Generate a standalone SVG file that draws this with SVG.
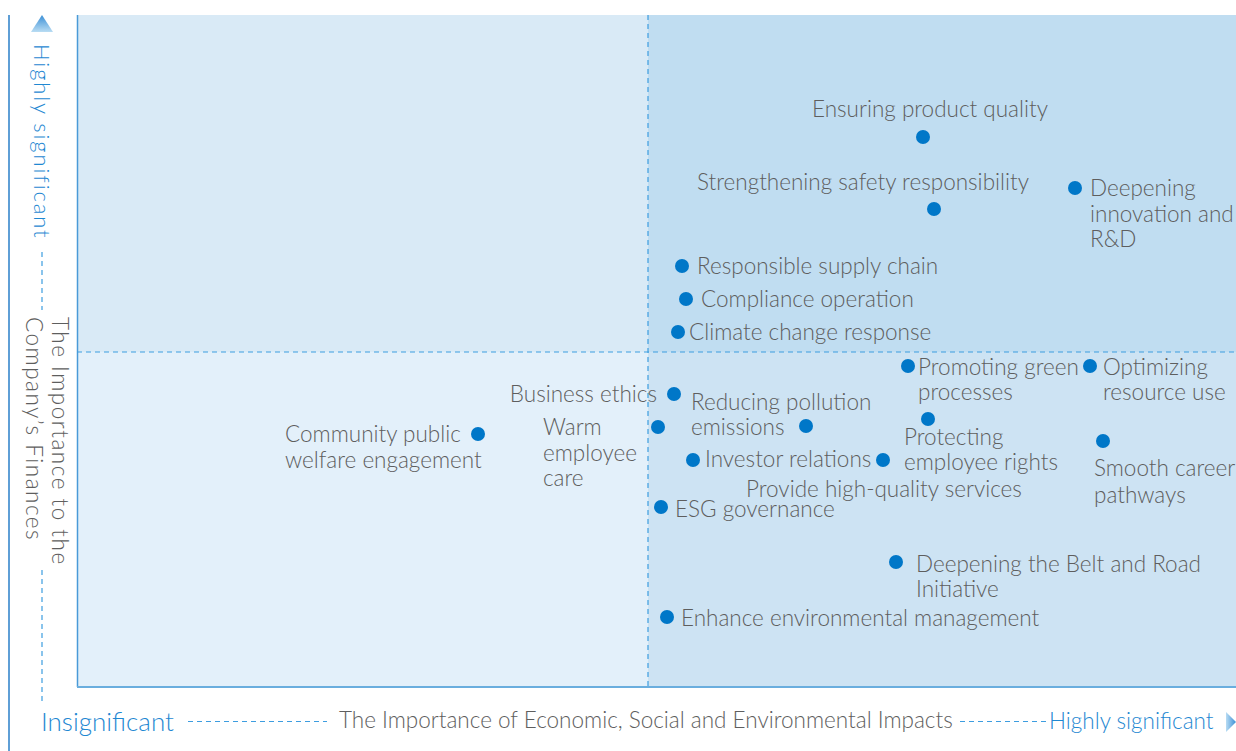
<svg xmlns="http://www.w3.org/2000/svg" width="1236" height="751" viewBox="0 0 1236 751">
<style>
.t{font-family:Lato,"Noto Sans","Liberation Sans",sans-serif;font-weight:300;font-size:22.5px;fill:#5e5e5e}
.b{font-family:Lato,"Noto Sans","Liberation Sans",sans-serif;font-weight:300;fill:#1f88d2}
.d{fill:#0077c8}
.dash{stroke:#3d9de0;stroke-width:1.2;stroke-dasharray:5 4;fill:none}
</style>
<defs>
<linearGradient id="gu" x1="0" y1="0" x2="0" y2="1"><stop offset="0" stop-color="#3a8fd6"/><stop offset="1" stop-color="#b9dcf3"/></linearGradient>
<linearGradient id="gr" x1="1" y1="0" x2="0" y2="0"><stop offset="0" stop-color="#3a8fd6"/><stop offset="1" stop-color="#b9dcf3"/></linearGradient>
</defs>
<rect width="1236" height="751" fill="#fff"/>
<g id="quadrants">
<rect x="77" y="15" width="571" height="337" fill="#d9eaf6"/>
<rect x="648" y="15" width="588" height="337" fill="#c0ddf1"/>
<rect x="77" y="352" width="571" height="335" fill="#e3f0fa"/>
<rect x="648" y="352" width="588" height="335" fill="#cde3f3"/>
</g>
<g id="axes">
<line x1="9" y1="15" x2="9" y2="751" stroke="#2a7fc8" stroke-width="1.5"/>
<line x1="77.5" y1="15" x2="77.5" y2="687" stroke="#4a9ad8" stroke-width="1.5"/>
<line x1="77" y1="687" x2="1236" y2="687" stroke="#6aaede" stroke-width="1.8"/>
<line class="dash" x1="648" y1="15" x2="648" y2="687"/>
<line class="dash" x1="77" y1="352" x2="1236" y2="352"/>
<line class="dash" x1="42" y1="252" x2="42" y2="310"/>
<line class="dash" x1="42" y1="570" x2="42" y2="705"/>
<line class="dash" x1="188" y1="721.5" x2="327" y2="721.5"/>
<line class="dash" x1="960" y1="721.5" x2="1046" y2="721.5"/>
<polygon points="42,15 53,32 31,32" fill="url(#gu)"/>
<polygon points="1236,722 1226,712 1226,732" fill="url(#gr)"/>
<text class="b" font-size="22" letter-spacing="1.9" transform="translate(34,44) rotate(90)">Highly significant</text>
<text class="t" letter-spacing="1.5" transform="translate(52,317) rotate(90)">The Importance to the</text>
<text class="t" letter-spacing="1.5" transform="translate(26,317) rotate(90)">Company’s Finances</text>
<text class="b" font-size="26" x="41" y="731">Insignificant</text>
<text class="t" x="339" y="728">The Importance of Economic, Social and Environmental Impacts</text>
<text class="b" font-size="22.5" x="1049" y="729">Highly significant</text>
</g>
<g id="n1"><circle class="d" cx="923" cy="137" r="7"/><text class="t" x="812" y="117">Ensuring product quality</text></g>
<g id="n2"><circle class="d" cx="934" cy="209" r="7"/><text class="t" x="697" y="190">Strengthening safety responsibility</text></g>
<g id="n3"><circle class="d" cx="1075" cy="188" r="7"/><text class="t" x="1090" y="196">Deepening</text><text class="t" x="1090" y="222">innovation and</text><text class="t" x="1090" y="247">R&amp;D</text></g>
<g id="n4"><circle class="d" cx="682" cy="266" r="7"/><text class="t" x="697" y="274">Responsible supply chain</text></g>
<g id="n5"><circle class="d" cx="686" cy="299" r="7"/><text class="t" x="701" y="307">Compliance operation</text></g>
<g id="n6"><circle class="d" cx="678" cy="332" r="7"/><text class="t" x="689" y="340">Climate change response</text></g>
<g id="n7"><circle class="d" cx="908" cy="366" r="7"/><text class="t" x="918" y="375">Promoting green</text><text class="t" x="918" y="400">processes</text></g>
<g id="n8"><circle class="d" cx="1090" cy="366" r="7"/><text class="t" x="1103" y="375">Optimizing</text><text class="t" x="1103" y="400">resource use</text></g>
<g id="n9"><circle class="d" cx="674" cy="394" r="7"/><text class="t" x="657" y="402" text-anchor="end">Business ethics</text></g>
<g id="n10"><circle class="d" cx="806" cy="426" r="7"/><text class="t" x="691" y="410">Reducing pollution</text><text class="t" x="691" y="435">emissions</text></g>
<g id="n11"><circle class="d" cx="658" cy="427" r="7"/><text class="t" x="543" y="435">Warm</text><text class="t" x="543" y="461">employee</text><text class="t" x="543" y="486">care</text></g>
<g id="n12"><circle class="d" cx="478" cy="434" r="7"/><text class="t" x="285" y="442">Community public</text><text class="t" x="285" y="468">welfare engagement</text></g>
<g id="n13"><circle class="d" cx="928" cy="419" r="7"/><text class="t" x="904" y="445">Protecting</text><text class="t" x="904" y="470">employee rights</text></g>
<g id="n14"><circle class="d" cx="693" cy="460" r="7"/><text class="t" x="705" y="467">Investor relations</text></g>
<g id="n15"><circle class="d" cx="883" cy="460" r="7"/><text class="t" x="746" y="497">Provide high-quality services</text></g>
<g id="n16"><circle class="d" cx="1103" cy="441" r="7"/><text class="t" x="1094" y="476">Smooth career</text><text class="t" x="1094" y="503">pathways</text></g>
<g id="n17"><circle class="d" cx="661" cy="507" r="7"/><text class="t" x="675" y="517">ESG governance</text></g>
<g id="n18"><circle class="d" cx="896" cy="562" r="7"/><text class="t" x="916" y="572">Deepening the Belt and Road</text><text class="t" x="916" y="597">Initiative</text></g>
<g id="n19"><circle class="d" cx="667" cy="617" r="7"/><text class="t" x="681" y="626">Enhance environmental management</text></g>
</svg>
